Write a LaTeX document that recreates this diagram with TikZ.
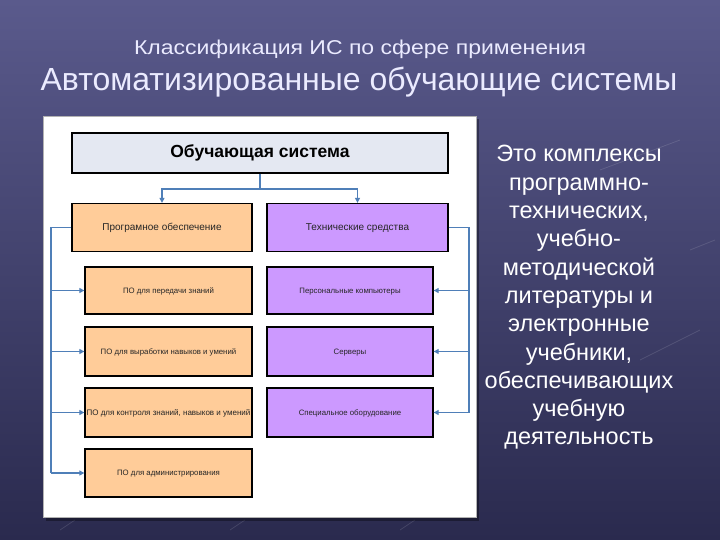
\documentclass[tikz,border=0pt]{standalone}
\usepackage{fontspec}
\setmainfont{Liberation Sans}
\usetikzlibrary{arrows.meta}
\definecolor{bgtop}{HTML}{5A5A8C}
\definecolor{bgbot}{HTML}{2A2A4E}
\definecolor{peach}{HTML}{FFCC99}
\definecolor{lilac}{HTML}{CC99FF}
\definecolor{topfill}{HTML}{E4E8F2}
\definecolor{conn}{HTML}{4F7FB8}
\tikzset{
  pbox/.style={draw=black, line width=1.3pt, fill=peach, minimum width=#1, minimum height=48pt, inner sep=0pt, text height=1.5ex, text depth=0.4ex, font=\fontsize{7.8}{9}\selectfont, text=black!85},
  tbox/.style={draw=black, line width=1.3pt, fill=lilac, minimum width=#1, minimum height=48pt, inner sep=0pt, text height=1.5ex, text depth=0.4ex, font=\fontsize{7.8}{9}\selectfont, text=black!85},
  link/.style={draw=conn, line width=1.1pt},
  arr/.style={link, -{Triangle[length=5pt,width=5pt]}},
  deco/.style={draw=white, opacity=0.12, line width=0.8pt}
}
\begin{document}
\begin{tikzpicture}[x=1pt,y=-1pt]
\useasboundingbox (0,0) rectangle (720,540);
\shade[top color=bgtop, bottom color=bgbot] (0,0) rectangle (720,540);
% faint decorative lines
\draw[deco] (60,530) -- (75,520);
\draw[deco] (230,530) -- (245,520);
\draw[deco] (400,530) -- (415,520);
\draw[deco] (640,360) -- (700,330);
\draw[deco] (600,170) -- (680,140);
\draw[deco] (690,250) -- (715,240);
% titles
\node[text=white!92!blue, font=\fontsize{20}{22}\selectfont, xscale=1.15] (sub) at (360,49) {Классификация ИС по сфере применения};
\node[text=white!92!blue, font=\fontsize{32}{34}\selectfont] (ttl) at (359,82) {Автоматизированные обучающие системы};
% panel
\fill[black, opacity=0.35] (46,119) rectangle (479,521);
\node[draw=gray!60, fill=white, minimum width=433pt, minimum height=401pt, inner sep=0pt, anchor=north west] (panel) at (43,116) {};
% top box
\node[draw=black, line width=1.3pt, fill=topfill, minimum width=376pt, minimum height=40pt, inner sep=0pt, font=\bfseries\fontsize{17.5}{19}\selectfont] (top) at (260,153) {Обучающая система};
% row 1
\node[pbox=180pt, font=\fontsize{10}{12}\selectfont] (sw) at (162,227.5) {Програмное обеспечение};
\node[tbox=181pt, font=\fontsize{10}{12}\selectfont] (hw) at (357.5,227.5) {Технические средства};
% left column
\node[pbox=167pt, minimum height=47pt] (l1) at (168.5,290.5) {ПО для передачи знаний};
\node[pbox=167pt, minimum height=49pt] (l2) at (168.5,351.5) {ПО для выработки навыков и умений};
\node[pbox=167pt, minimum height=49pt, font=\fontsize{8}{9}\selectfont] (l3) at (168.5,412.5) {ПО для контроля знаний, навыков и умений};
\node[pbox=167pt, minimum height=48pt] (l4) at (168.5,473) {ПО для администрирования};
% right column
\node[tbox=166pt, minimum height=47pt] (r1) at (350,290.5) {Персональные компьютеры};
\node[tbox=166pt, minimum height=49pt] (r2) at (350,351.5) {Серверы};
\node[tbox=166pt, minimum height=49pt] (r3) at (350,412.5) {Специальное оборудование};
% connectors top
\coordinate (tb) at (260,189);
\draw[link] (top.south) -- (tb);
\draw[arr] (tb) -| (sw.north);
\draw[arr] (tb) -| (hw.north);
% left bus
\coordinate (lb) at (51,227.5);
\coordinate (lbe) at (51,473);
\draw[link] (sw.west) -- (lb) -- (lbe);
\draw[arr] (lb |- l1.west) -- (l1.west);
\draw[arr] (lb |- l2.west) -- (l2.west);
\draw[arr] (lb |- l3.west) -- (l3.west);
\draw[arr] (lbe) -- (l4.west);
% right bus
\coordinate (rb) at (469,227.5);
\coordinate (rbe) at (469,412.5);
\draw[link] (hw.east) -- (rb) -- (rbe);
\draw[arr] (rb |- r1.east) -- (r1.east);
\draw[arr] (rb |- r2.east) -- (r2.east);
\draw[arr] (rbe) -- (r3.east);
% right text
\node[text=white, align=center, font=\fontsize{23.5}{28.3}\selectfont, anchor=north] (desc) at (579,142) {Это комплексы\\программно-\\технических,\\учебно-\\методической\\литературы и\\электронные\\учебники,\\обеспечивающих\\учебную\\деятельность};
\end{tikzpicture}
\end{document}
